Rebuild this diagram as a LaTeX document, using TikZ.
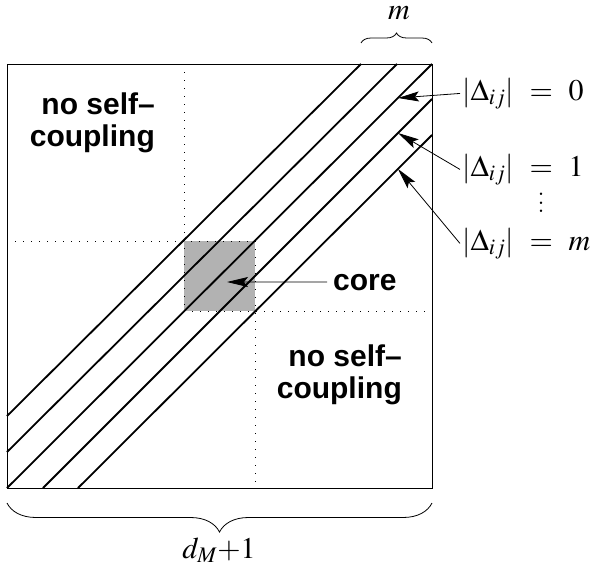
\documentclass[tikz,border=0pt]{standalone}
\usepackage{mathptmx}
\usepackage[no-math]{fontspec}
\setsansfont{Liberation Sans}
\usepackage{tikz}
\usetikzlibrary{arrows.meta,decorations.pathreplacing}

\begin{document}
\begin{tikzpicture}[x=1pt, y=-1pt,
    dg/.style={line width=1.8pt},
    dt/.style={line width=1pt, dash pattern=on 1.3pt off 6.7pt},
    ar/.style={-{Stealth[length=21pt, width=10pt, inset=4pt]}, line width=0.8pt},
    lbl/.style={font=\sffamily\bfseries\fontsize{30}{32}\selectfont,
                align=right, inner sep=0pt},
    mth/.style={font=\fontsize{30}{32}\selectfont, inner sep=0pt},
    brc/.style={decorate, decoration={brace, amplitude=#1}, line width=0.8pt},
  ]
  \useasboundingbox (0,0) rectangle (591,581);
  % corners of the matrix
  \coordinate (tl) at (7,64);
  \coordinate (tr) at (432,64);
  \coordinate (bl) at (7,488);
  \coordinate (br) at (432,488);
  % core block and block borders
  \fill[black!30] (184,241) rectangle (255,311);
  \draw[dt] (184,64) -- (184,311);
  \draw[dt] (7,241) -- (255,241);
  \draw[dt] (255,241) -- (255,488);
  \draw[dt] (184,311) -- (432,311);
  % diagonal bands
  \draw[dg] (7,416) -- (361,64);
  \draw[dg] (7,452) -- (397,64);
  \draw[dg] (bl) -- (tr);
  \draw[dg] (43,488) -- (432,99);
  \draw[dg] (78,488) -- (432,135);
  \draw[line width=1pt] (tl) rectangle (br);
  % block labels
  \node[lbl, anchor=base east] (nsa) at (155,146) {no self–\\coupling};
  \node[lbl, anchor=base east] (nsb) at (402,398) {no self–\\coupling};
  \node[lbl, anchor=base west] (core) at (333,290) {core};
  \coordinate (pc) at (227,282);
  \draw[ar] ([xshift=-6pt]core.west) -- (pc);
  % band labels
  \node[mth, anchor=base west] (dz) at (462,100) {$|\Delta_{ij}|\ =\ 0$};
  \node[mth, anchor=base west] (d1) at (462,176) {$|\Delta_{ij}|\ =\ 1$};
  \node[mth, align=center, font=\fontsize{30}{8.5}\selectfont] (vd) at (541,203) {.\\.\\.};
  \node[mth, anchor=base west] (dm) at (462,250) {$|\Delta_{ij}|\ =\ m$};
  \coordinate (pz) at (398,98);
  \coordinate (p1) at (398,133);
  \coordinate (pm) at (398,169);
  \draw[ar] ([xshift=-2pt]dz.west) -- (pz);
  \draw[ar] ([xshift=-2pt]d1.west) -- (p1);
  \draw[ar] ([xshift=-2pt]dm.west) -- (pm);
  % braces
  \coordinate (ml) at (361,43);
  \coordinate (mr) at (432,43);
  \draw[brc=10pt] (ml) -- (mr);
  \node[mth, anchor=base] (mw) at (399,19) {$m$};
  \coordinate (dl) at (7,503);
  \coordinate (dr) at (432,503);
  \draw[brc=29pt] (dr) -- (dl);
  \node[mth, anchor=base] (dM) at (219,558) {$d_M{+}1$};
\end{tikzpicture}
\end{document}
